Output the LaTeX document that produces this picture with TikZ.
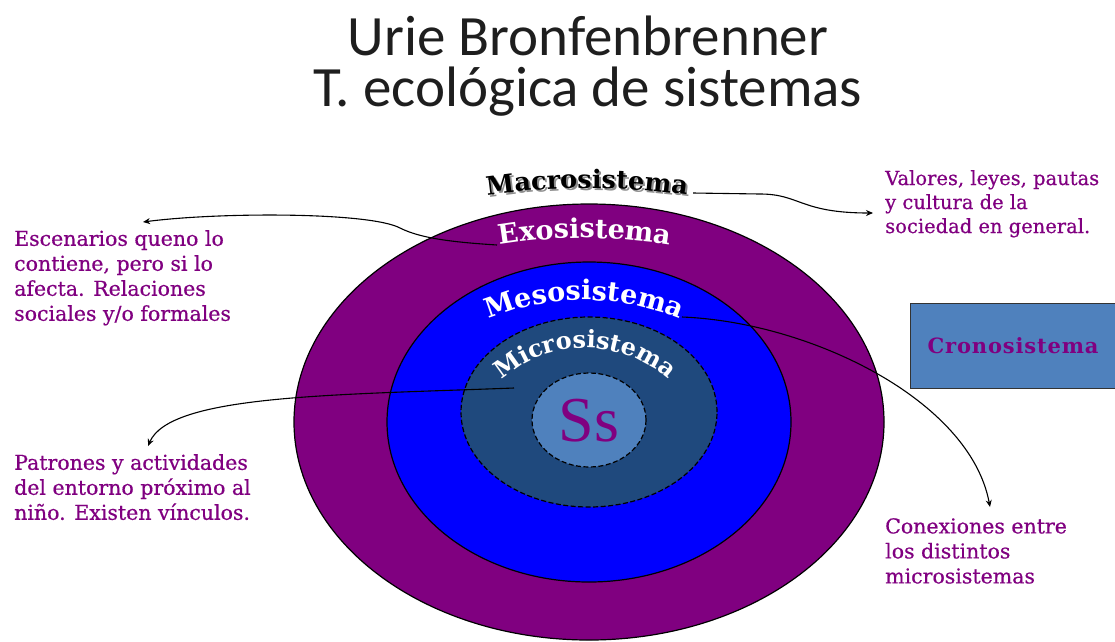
\documentclass[tikz,border=0pt]{standalone}
\usepackage{fontspec}
\usetikzlibrary{decorations.text,arrows.meta,calc}
\newfontfamily\slabfont{DejaVu Serif}
\newfontfamily\calloutfont{DejaVu Serif}[FakeBold=0.6]
\newfontfamily\cronofont{DejaVu Serif Bold}[LetterSpace=4]
\newfontfamily\titlefont{Carlito}
\newfontfamily\timesfont{Liberation Serif}
\definecolor{ringpurple}{RGB}{128,0,128}
\definecolor{ringblue}{RGB}{0,0,255}
\definecolor{ringdark}{RGB}{31,73,125}
\definecolor{ringlight}{RGB}{79,129,189}
\definecolor{txtpurple}{RGB}{128,0,128}
\definecolor{titlegray}{RGB}{30,30,30}
\tikzset{
  ring/.style={draw=black, line width=1.2pt},
  dashring/.style={draw=black, line width=1.2pt, dash pattern=on 5pt off 2.5pt},
  callout/.style={font=\calloutfont\fontsize{20.5}{25}\selectfont, text=txtpurple, align=left, anchor=north west, inner sep=0pt},
  conn/.style={draw=black, line width=1.1pt, -{Stealth[length=7pt,width=6pt]}},
  titlestyle/.style={font=\titlefont\fontsize{57}{60}\selectfont, text=titlegray, anchor=base, inner sep=0pt},
  cronobox/.style={draw=black!80, line width=1.2pt, fill=ringlight, anchor=north west, minimum width=215pt, minimum height=85pt, inner sep=0pt, font=\cronofont\fontsize{21}{21}\selectfont, text=txtpurple}
}
\begin{document}
\begin{tikzpicture}[x=1pt,y=-1pt]
\useasboundingbox (0,0) rectangle (1115,641);
\clip (0,0) rectangle (1115,641);
% title
\node[titlestyle] (t1) at (588,55) {Urie Bronfenbrenner};
\node[titlestyle] (t2) at (588,106) {T. ecológica de sistemas};
% rings
\coordinate (ctr) at (589,422);
\path[ring, fill=ringpurple] (ctr) ellipse [x radius=295pt, y radius=218pt];
\path[ring, fill=ringblue] (ctr) ellipse [x radius=202pt, y radius=160pt];
\path[dashring, fill=ringdark] (589,412) ellipse [x radius=128pt, y radius=95pt];
\path[dashring, fill=ringlight] (589,420) ellipse [x radius=57pt, y radius=47pt];
\node[font=\timesfont\fontsize{64}{64}\selectfont, text=txtpurple, anchor=base, inner sep=0pt] (ss) at (589,441) {Ss};
% curved labels
\path[decorate, decoration={text along path, text align=center, text color=black!45,
  text={|\slabfont\bfseries\fontsize{25.5}{25.5}\selectfont|Macrosistema}}]
  ($(589,890)+(99:700pt)$) arc[start angle=99, end angle=81, radius=700pt];
\path[decorate, decoration={text along path, text align=center, text color=black,
  text={|\slabfont\bfseries\fontsize{25.5}{25.5}\selectfont|Macrosistema}}]
  ($(587,888)+(99:700pt)$) arc[start angle=99, end angle=81, radius=700pt];
\path[decorate, decoration={text along path, text align=center, text color=white,
  text={|\slabfont\bfseries\fontsize{27}{27}\selectfont|Exosistema}}]
  ($(585,768)+(101:530pt)$) arc[start angle=101, end angle=79, radius=530pt];
\path[decorate, decoration={text along path, text align=center, text color=white,
  text={|\slabfont\bfseries\fontsize{27}{27}\selectfont|Mesosistema}}]
  ($(584,550)+(116:250pt)$) arc[start angle=116, end angle=64, radius=250pt];
\path[decorate, decoration={text along path, text align=center, text color=white,
  text={|\slabfont\bfseries\fontsize{24}{24}\selectfont|Microsistema}}]
  ($(585,474)+(135:126pt)$) arc[start angle=135, end angle=45, radius=126pt];
% Cronosistema box
\node[cronobox] (crono) at (910,303) {\hspace*{-5pt}Cronosistema\hspace*{5pt}};
% callouts
\node[callout] (exotxt) at (14,230) {Escenarios queno lo\\contiene, pero si lo\\afecta. Relaciones\\sociales y/o formales};
\node[callout] (microtxt) at (14,454) {Patrones y actividades\\del entorno próximo al\\niño. Existen vínculos.};
\node[callout, font=\calloutfont\fontsize{19.5}{24}\selectfont] (macrotxt) at (885,170) {Valores, leyes, pautas\\y cultura de la\\sociedad en general.};
\node[callout] (mesotxt) at (885,518) {Conexiones entre\\los distintos\\microsistemas};
% connector ends
\coordinate (exoS) at (497,245);
\coordinate (exoT) at (143,222);
\coordinate (macroS) at (693,193);
\coordinate (macroT) at (873,213);
\coordinate (microS) at (514,388);
\coordinate (microT) at (148,446);
\coordinate (mesoS) at (682,317);
\coordinate (mesoT) at (990,507);
\draw[conn] (exoS) .. controls (450,242) and (420,238) .. (400,228) .. controls (370,212) and (220,212) .. (exoT);
\draw[conn] (macroS) -- (760,194) .. controls (800,194) and (800,213) .. (macroT);
\draw[conn] (microS) .. controls (330,395) and (170,395) .. (microT);
\draw[conn] (mesoS) .. controls (810,322) and (970,400) .. (mesoT);
\end{tikzpicture}
\end{document}
